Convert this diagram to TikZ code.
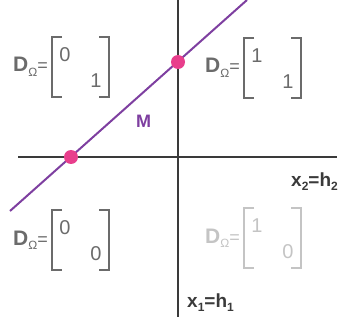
\documentclass[tikz,border=0pt]{standalone}
\usepackage{fontspec}
\setmainfont{Liberation Sans}
\definecolor{axisc}{HTML}{3A3A3A}
\definecolor{txtc}{HTML}{6B6B6B}
\definecolor{lightc}{HTML}{C4C4C4}
\definecolor{purp}{HTML}{7E3FA0}
\definecolor{pinkc}{HTML}{E83E8C}
\newcommand{\subsc}[1]{\raisebox{-0.4ex}{\fontsize{12}{12}\selectfont #1}}
\newcommand{\dmat}[5]{%
\begin{scope}[shift={#2}]
\draw[bracket,#5] (10,0) -| (0,60) -- (10,60);
\draw[bracket,#5] (47,0) -| (57,60) -- (47,60);
\node[digit,text=#5] (#1a) at (13,18) {#3};
\node[digit,text=#5] (#1b) at (44,44) {#4};
\node[dlab,text=#5,anchor=base east] (#1d) at (-4,35) {\textbf{D}\subsc{Ω}\fontsize{18}{18}\selectfont=};
\end{scope}}
\begin{document}
\begin{tikzpicture}[x=1pt,y=-1pt,
  axis/.style={draw=axisc,line width=2.4pt},
  mline/.style={draw=purp,line width=2pt},
  dot/.style={circle,fill=pinkc,inner sep=0pt,minimum size=14pt},
  bracket/.style={line width=2.8pt},
  digit/.style={inner sep=0pt,font=\fontsize{20}{20}\selectfont},
  dlab/.style={inner sep=0pt,font=\fontsize{21}{21}\selectfont},
  axlab/.style={inner sep=0pt,anchor=base west,text=axisc,font=\bfseries\fontsize{19}{19}\selectfont}]
\useasboundingbox (0,0) rectangle (340,326);
\coordinate (ml0) at (10,211);
\coordinate (ml1) at (247,0);
\coordinate (hx0) at (18,157);
\coordinate (hx1) at (337,157);
\coordinate (vx0) at (178,0);
\coordinate (vx1) at (178,317);
\draw[axis] (hx0) -- (hx1);
\draw[axis] (vx0) -- (vx1);
\draw[mline] (ml0) -- (ml1);
\node[dot] (p1) at (71,157) {};
\node[dot] (p2) at (178,62) {};
\node[inner sep=0pt,anchor=base west,text=purp,font=\bfseries\fontsize{18}{18}\selectfont] (M) at (136,128) {M};
\dmat{tl}{(52,37)}{0}{1}{txtc}
\dmat{tr}{(244,38)}{1}{1}{txtc}
\dmat{bl}{(52,210)}{0}{0}{txtc}
\dmat{br}{(244,208)}{1}{0}{lightc}
\node[axlab] (x2) at (291,186) {x\subsc{2}=h\subsc{2}};
\node[axlab] (x1) at (187,307) {x\subsc{1}=h\subsc{1}};
\end{tikzpicture}
\end{document}
